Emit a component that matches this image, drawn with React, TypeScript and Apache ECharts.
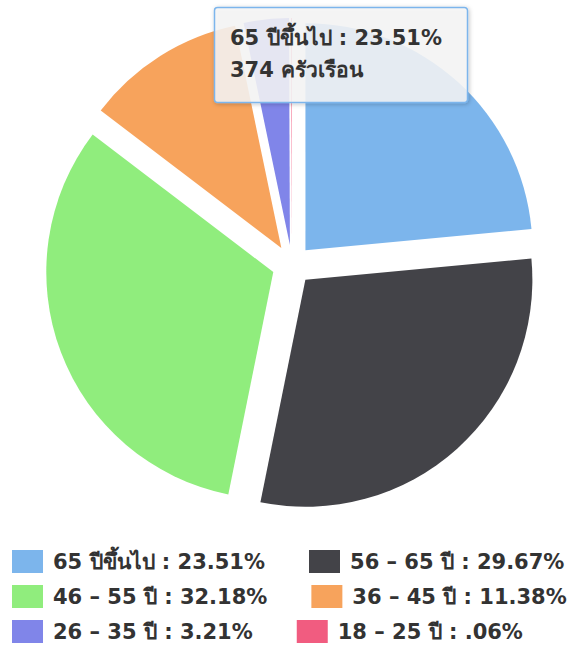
import React, { useEffect, useRef } from "react";
import * as echarts from "echarts";

const categories = ["65 ปีขึ้นไป", "56 – 65 ปี", "46 – 55 ปี", "36 – 45 ปี", "26 – 35 ปี", "18 – 25 ปี"];
const households = [374, 472, 512, 181, 51, 1];
const colors = ["#7cb5ec", "#434348", "#90ed7d", "#f7a35c", "#8085e9", "#f15c80"];
const legendRows = [[0, 1], [2, 3], [4, 5]];
const tooltipIndex = 0;
const unitLabel = "ครัวเรือน";

const FONT = '"DejaVu Sans", sans-serif';
const FONT_SIZE = 21;

export default function App() {
  const ref = useRef<HTMLDivElement>(null);
  useEffect(() => {
    document.body.style.margin = "0";
    if (!ref.current) return;
    const chart = echarts.init(ref.current, undefined, { renderer: "svg" });
    const total = households.reduce((a, b) => a + b, 0);
    const pct = (i: number) => (households[i] / total * 100).toFixed(2).replace(/^0\./, ".");
    const labelOf: Record<string, string> = {};
    categories.forEach((c, i) => { labelOf[c] = `${c} : ${pct(i)}%`; });

    const rowTops = [550, 585, 620];
    const legends = legendRows.map((row, r) => ({
      left: 12,
      top: rowTops[r],
      orient: "horizontal",
      itemGap: 44,
      itemWidth: 31,
      itemHeight: 23,
      icon: "rect",
      padding: 0,
      selectedMode: false,
      data: row.map((i) => ({ name: categories[i], itemStyle: { color: colors[i], borderWidth: 0 } })),
      formatter: (name: string) => labelOf[name],
      textStyle: {
        fontFamily: FONT,
        fontSize: FONT_SIZE,
        fontWeight: "bold",
        color: "#333333",
        lineHeight: 23,
        padding: [0, 0, 0, 5],
      },
    }));

    const textStyleBase = {
      fontFamily: FONT,
      fontSize: FONT_SIZE,
      fontWeight: "bold",
      fill: "#333333",
      verticalAlign: "middle",
    };

    chart.setOption({
      animation: false,
      backgroundColor: "#ffffff",
      legend: legends,
      series: [
        {
          type: "pie",
          center: [292, 265],
          radius: 227,
          startAngle: 90,
          clockwise: true,
          selectedMode: "multiple",
          selectedOffset: 20,
          label: { show: false },
          labelLine: { show: false },
          emphasis: { disabled: true },
          data: categories.map((c, i) => ({
            name: c,
            value: households[i],
            selected: true,
            itemStyle: { color: colors[i], borderWidth: 0 },
            select: { itemStyle: { color: colors[i], borderWidth: 0 } },
          })),
        },
      ],
      graphic: [
        {
          type: "rect",
          z: 100,
          zlevel: 1,
          shape: { x: 214.5, y: 7.5, width: 253, height: 95, r: 3 },
          style: {
            fill: "rgba(247,247,247,0.85)",
            stroke: colors[tooltipIndex],
            lineWidth: 1.5,
            shadowBlur: 4,
            shadowOffsetX: 1,
            shadowOffsetY: 1,
            shadowColor: "rgba(0,0,0,0.25)",
          },
        },
        {
          type: "text",
          z: 101,
          zlevel: 1,
          style: { ...textStyleBase, text: `${categories[tooltipIndex]} : ${pct(tooltipIndex)}%`, x: 230, y: 38 },
        },
        {
          type: "text",
          z: 101,
          zlevel: 1,
          style: { ...textStyleBase, text: `${households[tooltipIndex]} ${unitLabel}`, x: 230, y: 70 },
        },
      ],
    });
    return () => chart.dispose();
  }, []);
  return <div ref={ref} style={{ width: 571, height: 648 }} />;
}
